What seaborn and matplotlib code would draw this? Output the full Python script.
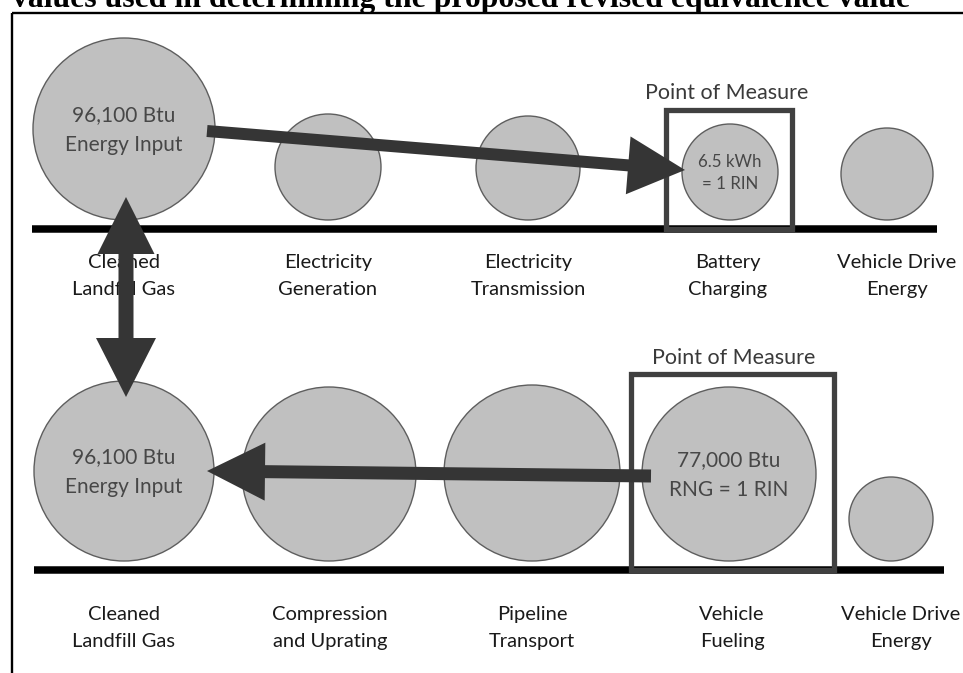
import matplotlib
matplotlib.use("Agg")
import matplotlib.pyplot as plt
from matplotlib.patches import Circle, Rectangle, FancyArrow
import seaborn as sns
import pandas as pd

# ---- data ----
title = "values used in determining the proposed revised equivalence value"
top_stages = ["Cleaned\nLandfill Gas", "Electricity\nGeneration", "Electricity\nTransmission",
              "Battery\nCharging", "Vehicle Drive\nEnergy"]
top_radius = [91, 53, 52, 48, 46]
top_inner = ["96,100 Btu\nEnergy Input", "", "", "6.5 kWh\n= 1 RIN", ""]
bottom_stages = ["Cleaned\nLandfill Gas", "Compression\nand Uprating", "Pipeline\nTransport",
                 "Vehicle\nFueling", "Vehicle Drive\nEnergy"]
bottom_radius = [90, 87, 88, 87, 42]
bottom_inner = ["96,100 Btu\nEnergy Input", "", "", "77,000 Btu\nRNG = 1 RIN", ""]
measure_label = "Point of Measure"

# ---- layout (pixel coordinates) ----
W, H = 963, 673
top_x = [124, 328, 528, 730, 887]
top_label_x = [124, 328, 528, 728, 897]
bot_x = [124, 329, 532, 729, 891]
bot_label_x = [124, 330, 532, 732, 901]
top_base, bot_base = 229, 570

sns.set_theme(style="white")
plt.rcParams["font.family"] = ["Lato", "DejaVu Sans"]

fig = plt.figure(figsize=(W / 100, H / 100), dpi=100)
ax = fig.add_axes([0, 0, 1, 1])

fill = "#c0c0c0"
edge = "#5e5e5e"
arrow_c = "#353535"
txt_c = "#474747"

# baselines via seaborn
base_df = pd.DataFrame({"x": [32, 937, 34, 944], "y": [top_base, top_base, bot_base, bot_base],
                        "row": ["top", "top", "bottom", "bottom"]})
sns.lineplot(data=base_df, x="x", y="y", units="row", estimator=None, color="black",
             lw=5.4, ax=ax, legend=False, zorder=2, solid_capstyle="butt")
ax.set_xlim(0, W)
ax.set_ylim(H, 0)
ax.axis("off")

# frame and (cropped) title
ax.add_patch(Rectangle((11.5, 12.7), 1000, 700, fill=False, lw=1.7, ec="black", zorder=1))
ax.text(12, 6.5, title, ha="left", va="baseline", fontsize=22.9, fontweight="bold",
        family="Liberation Serif", color="black")

def row(xs, radii, base, inner, lab_x, labels, label_y):
    for x, r, t in zip(xs, radii, inner):
        cy = base - 9 - r
        ax.add_patch(Circle((x, cy), r, fc=fill, ec=edge, lw=1.0, zorder=3))
        if t:
            small = r < 60
            ax.text(x, cy + 1, t, ha="center", va="center", fontsize=12.2 if small else 15,
                    color=txt_c, linespacing=1.5 if small else 1.6, zorder=4)
    for x, lab in zip(lab_x, labels):
        ax.text(x, label_y, lab, ha="center", va="top", fontsize=14.5,
                color="#1a1a1a", linespacing=1.7, zorder=4)

row(top_x, top_radius, top_base, top_inner, top_label_x, top_stages, 254)
row(bot_x, bottom_radius, bot_base, bottom_inner, bot_label_x, bottom_stages, 606)

# point of measure boxes
ax.add_patch(Rectangle((666, 110), 126, top_base - 110, fill=False, ec="#404040", lw=3.8, zorder=5))
ax.text(727, 93, measure_label, ha="center", va="center", fontsize=15.5, color="#3a3a3a")
ax.add_patch(Rectangle((631, 374), 203, bot_base - 374, fill=False, ec="#404040", lw=3.8, zorder=5))
ax.text(734, 358, measure_label, ha="center", va="center", fontsize=15.5, color="#3a3a3a")

# arrows
ax.add_patch(FancyArrow(207, 131, 685 - 207, 170 - 131, width=12, head_width=58, head_length=57,
                        length_includes_head=True, fc=arrow_c, ec=arrow_c, lw=0, zorder=6))
mid = 297
ax.add_patch(FancyArrow(126, mid, 0, 197 - mid, width=15, head_width=57, head_length=57,
                        length_includes_head=True, fc=arrow_c, ec=arrow_c, lw=0, zorder=6))
ax.add_patch(FancyArrow(126, mid, 0, 397 - mid, width=15, head_width=60, head_length=59,
                        length_includes_head=True, fc=arrow_c, ec=arrow_c, lw=0, zorder=6))
ax.add_patch(FancyArrow(651, 476, 207 - 651, 471 - 476, width=13, head_width=58, head_length=58,
                        length_includes_head=True, fc=arrow_c, ec=arrow_c, lw=0, zorder=6))

fig.savefig("out.png", dpi=100)
